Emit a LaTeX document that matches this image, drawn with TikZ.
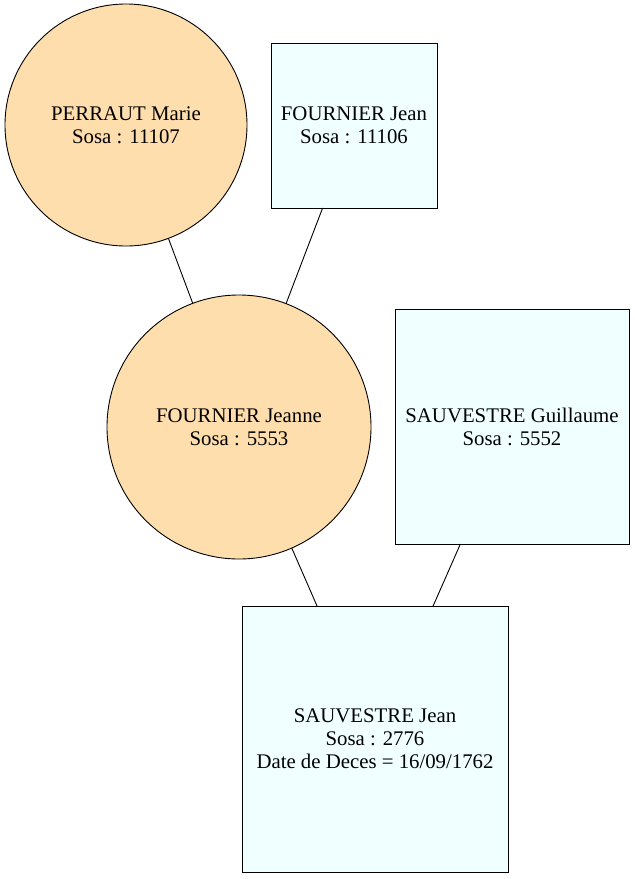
\documentclass[tikz,border=0pt]{standalone}
\usepackage{fontspec}
\setmainfont{Liberation Serif}
\definecolor{femfill}{RGB}{255,222,173}
\definecolor{malefill}{RGB}{240,255,255}
\tikzset{
  person/.style={draw=black, line width=0.9pt, outer sep=0pt, inner sep=0pt, align=center,
    font=\fontsize{20.8}{23}\selectfont},
  female/.style={person, circle, fill=femfill},
  male/.style={person, rectangle, fill=malefill},
  link/.style={draw=black, line width=0.9pt}
}
\begin{document}
\begin{tikzpicture}[x=1pt,y=-1pt]
\useasboundingbox (0,0) rectangle (635,879);
\node[female, minimum size=242pt] (marie) at (126,125) {PERRAUT Marie\\Sosa : 11107};
\node[male, minimum width=166pt, minimum height=165pt] (jean) at (354,125.5) {FOURNIER Jean\\Sosa : 11106};
\node[female, minimum size=264pt] (jeanne) at (239,427) {FOURNIER Jeanne\\Sosa : 5553};
\node[male, minimum width=234pt, minimum height=235pt] (guillaume) at (512,426.5) {SAUVESTRE Guillaume\\Sosa : 5552};
\node[male, minimum width=266pt, minimum height=266pt] (sjean) at (375,739) {SAUVESTRE Jean\\Sosa : 2776\\Date de Deces = 16/09/1762};
\draw[link] (marie) -- (jeanne);
\draw[link] (jean) -- (jeanne);
\draw[link] (jeanne) -- (sjean);
\draw[link] (guillaume) -- (sjean);
\end{tikzpicture}
\end{document}
